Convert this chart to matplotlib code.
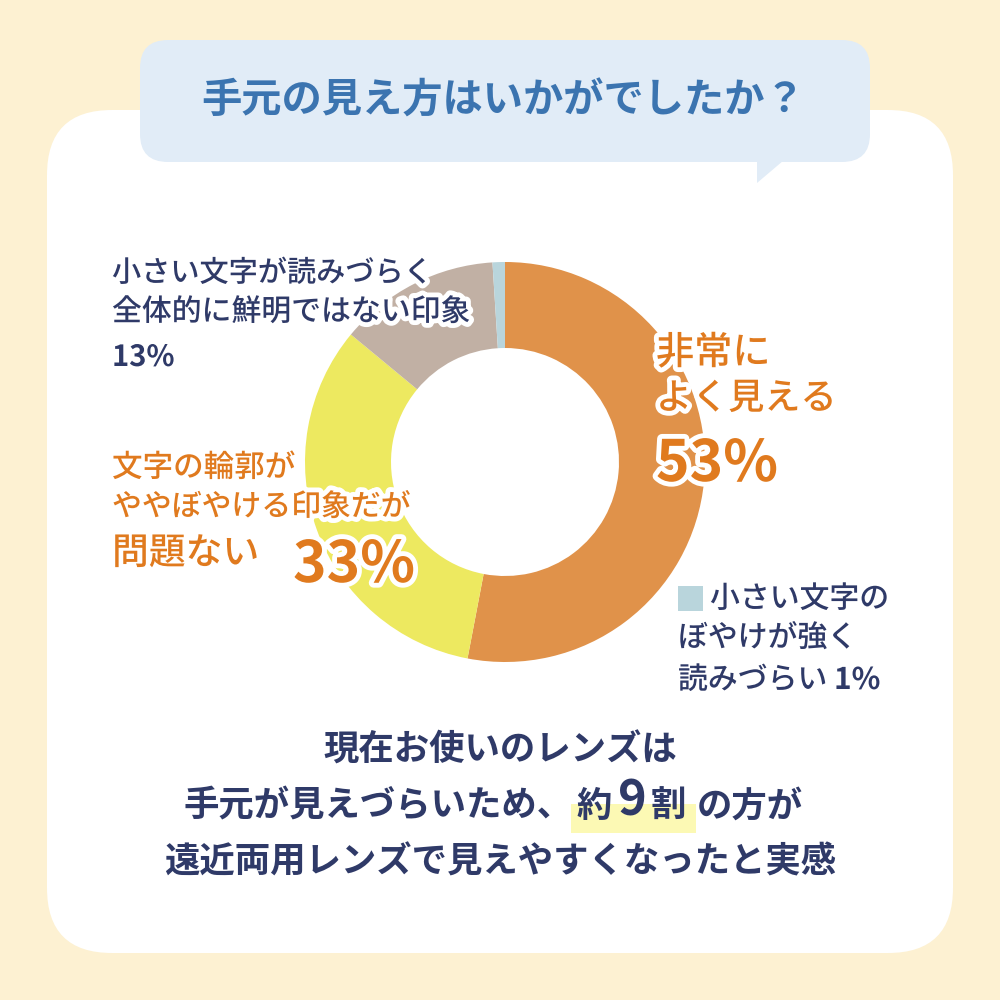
import matplotlib
matplotlib.use("Agg")
import matplotlib.pyplot as plt
import matplotlib.patheffects as pe
from matplotlib.patches import FancyBboxPatch, Polygon, Rectangle

plt.rcParams['font.family'] = ['Noto Sans CJK JP', 'DejaVu Sans']

# Data
categories = ['非常によく見える', '文字の輪郭がややぼやける印象だが問題ない',
              '小さい文字が読みづらく全体的に鮮明ではない印象', '小さい文字のぼやけが強く読みづらい']
values = [53, 33, 13, 1]
colors = ['#E0924A', '#EDE960', '#C1B0A4', '#B9D5DC']

title = '手元の見え方はいかがでしたか？'
summary_1 = '現在お使いのレンズは'
summary_3 = '遠近両用レンズで見えやすくなったと実感'

navy = '#2F3A68'
orange_txt = '#E07A1E'
blue_txt = '#3B74B0'
cream = '#FDF1D2'

fig = plt.figure(figsize=(10, 10), dpi=100)
fig.patch.set_facecolor(cream)
ax = fig.add_axes([0, 0, 1, 1])
ax.set_facecolor(cream)

# white card
ax.add_patch(FancyBboxPatch((47, 110), 906, 843, boxstyle='round,pad=0,rounding_size=65',
                            fc='white', ec='none', zorder=1))
# speech bubble
ax.add_patch(FancyBboxPatch((140, 40), 730, 122, boxstyle='round,pad=0,rounding_size=28',
                            fc='#E1ECF7', ec='none', zorder=2))
ax.add_patch(Polygon([[757, 155], [757, 183], [790, 155]], closed=True,
                     fc='#E1ECF7', ec='none', zorder=2))
ax.text(503, 101, title, ha='center', va='center', fontsize=29, fontweight='bold',
        color=blue_txt, zorder=3)

# donut
ax.pie(values, colors=colors, center=(505, 462), radius=200, startangle=270,
       counterclock=True, wedgeprops=dict(width=86, linewidth=0), frame=True)

ax.set_xlim(0, 1000)
ax.set_ylim(1000, 0)
ax.set_aspect('equal')
ax.axis('off')

outline = [pe.withStroke(linewidth=7, foreground='white')]

def label(x, y, s, size, color, weight='medium'):
    ax.text(x, y, s, ha='left', va='center', fontsize=size, fontweight=weight,
            color=color, path_effects=outline, zorder=5)

# 13%
label(112, 273, '小さい文字が読みづらく', 21, navy)
label(112, 312, '全体的に鮮明ではない印象', 21.5, navy)
label(112, 357, f'{values[2]}%', 21, navy, 'bold')

# 33%
label(112, 468, '文字の輪郭が', 22, orange_txt)
label(112, 507, 'ややぼやける印象だが', 21.5, orange_txt)
label(112, 553, '問題ない', 26.5, orange_txt)
label(293, 565, f'{values[1]}%', 41, orange_txt, 'bold')

# 53%
label(656, 353, '非常に', 27.5, orange_txt)
label(656, 399, 'よく見える', 26, orange_txt)
label(656, 464, f'{values[0]}%', 41, orange_txt, 'bold')

# 1%
ax.add_patch(Rectangle((678, 586), 25, 25, fc=colors[3], ec='none', zorder=5))
label(710, 599, '小さい文字の', 21.5, navy)
label(678, 638, 'ぼやけが強く', 21.5, navy)
label(678, 680, '読みづらい', 21.5, navy)
label(834, 680, f'{values[3]}%', 21.5, navy, 'bold')

# summary
fs = 25.5
ax.text(500, 750, summary_1, ha='center', va='center', fontsize=fs, fontweight='bold', color=navy, zorder=5)
ax.add_patch(Rectangle((571, 804), 125, 29, fc='#FCF9B4', ec='none', zorder=4))
ax.text(573, 806, '手元が見えづらいため、', ha='right', va='center', fontsize=fs, fontweight='bold', color=navy, zorder=5)
ax.text(576, 806, '約', ha='left', va='center', fontsize=fs, fontweight='bold', color=navy, zorder=5)
ax.text(632, 801, '9', ha='center', va='center', fontsize=35, fontweight='bold', color=navy, zorder=5)
ax.text(651, 806, '割', ha='left', va='center', fontsize=fs, fontweight='bold', color=navy, zorder=5)
ax.text(697, 806, 'の方が', ha='left', va='center', fontsize=fs, fontweight='bold', color=navy, zorder=5)
ax.text(500, 862, summary_3, ha='center', va='center', fontsize=fs, fontweight='bold', color=navy, zorder=5)

fig.savefig('out.png', dpi=100, facecolor=cream)
